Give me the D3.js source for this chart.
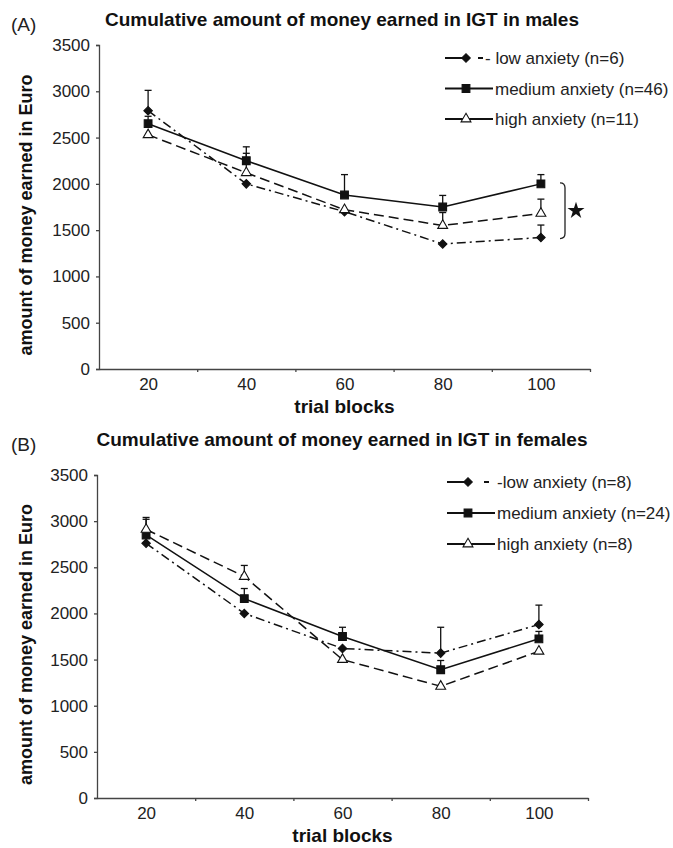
<!DOCTYPE html>
<html>
<head>
<meta charset="utf-8">
<script src="https://cdn.jsdelivr.net/npm/d3@7"></script>
<style>
  body { margin: 0; background: #fff; }
  svg { display: block; font-family: "Liberation Sans", Arial, sans-serif; }
</style>
</head>
<body>
<svg id="chart" width="673" height="848"></svg>
<script>
// trial blocks
const blocks = [20, 40, 60, 80, 100]
const yTicks = [0, 500, 1000, 1500, 2000, 2500, 3000, 3500]

// (A) males
const maleLow = [2790, 2000, 1700, 1350, 1420]
const maleMed = [2650, 2250, 1880, 1750, 2000]
const maleHigh = [2530, 2120, 1720, 1550, 1680]
const maleLowErr = [220, 0, 0, 0, 135]
const maleMedErr = [80, 150, 220, 125, 100]
const maleHighErr = [0, 210, 0, 140, 155]
const maleLegend = ["- low anxiety (n=6)", "medium anxiety (n=46)", "high anxiety (n=11)"]

// (B) females
const femLow = [2760, 2000, 1620, 1570, 1880]
const femMed = [2850, 2160, 1750, 1390, 1725]
const femHigh = [2910, 2400, 1500, 1210, 1590]
const femLowErr = [0, 0, 0, 280, 210]
const femMedErr = [170, 110, 100, 100, 80]
const femHighErr = [130, 120, 0, 0, 0]
const femLegend = ["-low anxiety (n=8)", "medium anxiety (n=24)", "high anxiety (n=8)"]

const svg = d3.select("#chart")
const ink = "#111"

function drawPanel(opt) {
    const g = svg.append("g")

    const x = d3.scaleLinear().domain([10, 110]).range([opt.left, opt.right])
    const y = d3.scaleLinear().domain([0, 3500]).range([opt.bottom, opt.top])

    // panel letter and title
    g.append("text")
        .attr("x", opt.letterX).attr("y", opt.titleY + 5)
        .attr("font-size", 19).attr("fill", "#222")
        .text(opt.letter)
    g.append("text")
        .attr("x", 342).attr("y", opt.titleY)
        .attr("text-anchor", "middle")
        .attr("font-size", 19).attr("font-weight", "bold").attr("fill", "#111")
        .text(opt.title)

    // y axis
    g.append("g")
        .attr("transform", `translate(${opt.left},0)`)
        .call(d3.axisLeft(y).tickValues(yTicks).tickSize(3).tickPadding(6).tickFormat(d3.format("d")))
    // x axis: labels at block centres, ticks at block borders
    g.append("g")
        .attr("transform", `translate(0,${opt.bottom})`)
        .call(d3.axisBottom(x).tickValues(blocks).tickSize(0).tickPadding(9))
    g.append("g")
        .attr("transform", `translate(0,${opt.bottom})`)
        .call(d3.axisBottom(x).tickValues([30, 50, 70, 90, 110]).tickSize(3).tickFormat(""))
        .select(".domain").remove()

    g.selectAll(".domain, .tick line").attr("stroke", "#444").attr("stroke-width", 1.3)
    g.selectAll(".tick text").attr("font-size", 17).attr("fill", "#222")
        .attr("font-family", "Liberation Sans, Arial, sans-serif")

    // axis titles
    g.append("text")
        .attr("transform", `translate(${opt.yLabelX},${(opt.top + opt.bottom) / 2 + 8}) rotate(-90)`)
        .attr("text-anchor", "middle")
        .attr("font-size", 18).attr("font-weight", "bold").attr("fill", "#111")
        .text("amount of money earned in Euro")
    g.append("text")
        .attr("x", x(60)).attr("y", opt.bottom + 44)
        .attr("text-anchor", "middle")
        .attr("font-size", 19).attr("font-weight", "bold").attr("fill", "#111")
        .text("trial blocks")

    const line = d3.line().x((d, i) => x(blocks[i])).y(d => y(d))

    opt.series.forEach(s => {
        g.append("path")
            .datum(s.values)
            .attr("d", line)
            .attr("fill", "none")
            .attr("stroke", ink)
            .attr("stroke-width", 1.5)
            .attr("stroke-dasharray", s.dash)
    })

    // error bars (upper half only)
    opt.series.forEach(s => {
        const eb = s.values.map((v, i) => ({ b: blocks[i], v: v, e: s.err[i] })).filter(d => d.e > 0)
        g.selectAll(null).data(eb).join("line")
            .attr("x1", d => x(d.b)).attr("x2", d => x(d.b))
            .attr("y1", d => y(d.v)).attr("y2", d => y(d.v + d.e))
            .attr("stroke", ink).attr("stroke-width", 1.3)
        g.selectAll(null).data(eb).join("line")
            .attr("x1", d => x(d.b) - 3.5).attr("x2", d => x(d.b) + 3.5)
            .attr("y1", d => y(d.v + d.e)).attr("y2", d => y(d.v + d.e))
            .attr("stroke", ink).attr("stroke-width", 1.3)
    })

    opt.series.forEach(s => {
        g.selectAll(null).data(s.values).join("path")
            .attr("transform", (d, i) => `translate(${x(blocks[i])},${y(d)}) rotate(${s.rot})`)
            .attr("d", s.symbol)
            .attr("fill", s.fill)
            .attr("stroke", ink)
            .attr("stroke-width", 1.1)
    })

    // legend
    opt.series.forEach((s, i) => {
        const ly = opt.legendY + i * opt.legendStep
        const lg = g.append("g").attr("transform", `translate(${opt.legendX},${ly})`)
        if (i === 0) {
            lg.append("line").attr("x1", 0).attr("x2", 20).attr("y1", 0).attr("y2", 0)
                .attr("stroke", ink).attr("stroke-width", 2)
            lg.append("line").attr("x1", opt.legendDash).attr("x2", opt.legendDash + 5).attr("y1", 0).attr("y2", 0)
                .attr("stroke", ink).attr("stroke-width", 2)
        } else {
            lg.append("line").attr("x1", 0).attr("x2", 48).attr("y1", 0).attr("y2", 0)
                .attr("stroke", ink).attr("stroke-width", 2)
        }
        lg.append("path")
            .attr("transform", `translate(21,0) rotate(${s.rot})`)
            .attr("d", s.symbol)
            .attr("fill", s.fill)
            .attr("stroke", ink)
            .attr("stroke-width", 1.1)
        lg.append("text")
            .attr("x", i === 0 ? opt.legendText0 : 50).attr("y", 6)
            .attr("font-size", 17).attr("fill", "#222")
            .text(opt.legend[i])
    })

    if (opt.bracket) {
        const bx = opt.right - 30
        const y1 = y(2000), y2 = y(1420)
        g.append("path")
            .attr("d", `M${bx},${y1 - 1} Q${bx + 5},${y1 - 1} ${bx + 5},${y1 + 4} L${bx + 5},${y2 - 4} Q${bx + 5},${y2 + 1} ${bx},${y2 + 1}`)
            .attr("fill", "none").attr("stroke", "#222").attr("stroke-width", 1.3)
        g.append("path")
            .attr("transform", `translate(${bx + 16},${(y1 + y2) / 2})`)
            .attr("d", d3.symbol(d3.symbolStar, 90)())
            .attr("fill", ink)
    }
}

const diamond = d3.symbol(d3.symbolSquare, 36)()
const square = d3.symbol(d3.symbolSquare, 60)()
const triangle = d3.symbol(d3.symbolTriangle, 42)()

drawPanel({
    letter: "(A)", title: "Cumulative amount of money earned in IGT in males",
    letterX: 11, titleY: 26, yLabelX: 32,
    left: 99, right: 590, top: 45, bottom: 369,
    legendX: 445, legendY: 58, legendStep: 30.5, legendDash: 33, legendText0: 40,
    legend: maleLegend, bracket: true,
    series: [
        { values: maleLow, err: maleLowErr, dash: "9,4,2,4", symbol: diamond, fill: ink, rot: 45 },
        { values: maleMed, err: maleMedErr, dash: null, symbol: square, fill: ink, rot: 0 },
        { values: maleHigh, err: maleHighErr, dash: "10,5", symbol: triangle, fill: "#fff", rot: 0 }
    ]
})

drawPanel({
    letter: "(B)", title: "Cumulative amount of money earned in IGT in females",
    letterX: 11, titleY: 446, yLabelX: 32,
    left: 97, right: 588, top: 475, bottom: 798,
    legendX: 447, legendY: 482, legendStep: 31, legendDash: 37, legendText0: 50,
    legend: femLegend, bracket: false,
    series: [
        { values: femLow, err: femLowErr, dash: "9,4,2,4", symbol: diamond, fill: ink, rot: 45 },
        { values: femMed, err: femMedErr, dash: null, symbol: square, fill: ink, rot: 0 },
        { values: femHigh, err: femHighErr, dash: "10,5", symbol: triangle, fill: "#fff", rot: 0 }
    ]
})
</script>
</body>
</html>
